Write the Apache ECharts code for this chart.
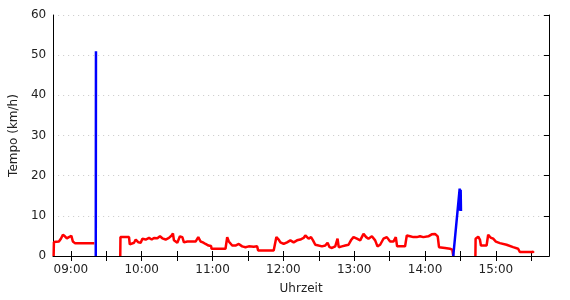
<!DOCTYPE html>
<html><head><meta charset="utf-8">
<script src="https://cdn.jsdelivr.net/npm/echarts@6/dist/echarts.min.js"></script>
<style>html,body{margin:0;padding:0;background:#fff}#c{width:570px;height:300px}</style>
</head><body><div id="c"></div>
<script>
// --- data ---
const redTimes = [
 "08:45:23","08:45:38","08:49:52","08:51:33","08:53:14","08:54:56","08:56:37","08:58:19","08:59:09","09:00:25","09:01:41","09:03:23","09:19:52",
 null,
 "09:41:50","09:42:00","09:49:16","09:49:52","09:53:29","09:54:56","09:57:13","09:59:09","10:00:35","10:03:23","10:06:10","10:08:27","10:10:23","10:13:16","10:15:28","10:17:29","10:20:17","10:23:04","10:25:21","10:26:27","10:27:18","10:30:10","10:32:22","10:34:24","10:35:45","10:38:37","10:45:38","10:47:55","10:49:52","10:51:48","10:54:05","10:56:37","10:58:44","10:59:09","11:10:59","11:12:25","11:13:46","11:16:39","11:19:26","11:22:14","11:25:06","11:27:53","11:30:41","11:34:54","11:37:46","11:38:37","11:51:48","11:54:05","11:56:02","11:57:28","12:00:15","12:03:07","12:05:55","12:08:42","12:11:35","12:14:22","12:17:09","12:18:35","12:21:23","12:23:25","12:25:06","12:27:02","12:29:50","12:32:42","12:35:29","12:37:26","12:39:08","12:41:09","12:43:56","12:45:53","12:46:54","12:49:36","12:52:23","12:55:11","12:57:13","12:59:25","13:02:17","13:05:04","13:07:52","13:10:08","13:12:05","13:14:58","13:17:45","13:19:41","13:21:58","13:24:46","13:27:38","13:30:25","13:33:13","13:35:14","13:36:20","13:43:06","13:44:32","13:47:19","13:50:07","13:52:59","13:55:46","13:58:34","14:00:00","14:02:47","14:05:40","14:08:27","14:10:44","14:11:50","14:16:54","14:21:08","14:23:04","14:23:55",
 null,
 "14:42:40","14:42:50","14:45:02","14:46:29","14:47:19","14:52:08","14:53:29","14:55:31","14:57:43","15:00:00","15:03:23","15:09:02","15:14:37","15:18:51","15:20:17","15:31:31","15:32:07"
];
const redSpeeds = [
 0,3.5,3.6,4.3,5.3,4.9,4.4,4.7,4.3,5.0,3.6,3.2,3.2,
 null,
 0,4.7,4.7,2.9,3.3,4.1,3.4,3.3,4.3,4.1,4.5,4.1,4.5,4.4,4.9,4.4,4.1,4.5,5.1,5.6,3.9,3.3,4.9,4.7,3.4,3.6,3.6,4.7,3.6,3.4,3.0,2.6,2.5,1.8,1.8,4.7,3.6,2.6,2.6,3.0,2.4,2.2,2.4,2.3,2.4,1.4,1.4,4.7,4.1,3.4,3.0,3.4,3.9,3.4,3.9,4.1,4.5,5.1,4.3,4.7,3.9,2.8,2.6,2.4,2.6,3.3,2.2,2.0,2.4,4.3,2.2,2.4,2.6,2.8,3.9,4.7,4.3,3.9,5.5,4.7,4.3,4.9,3.9,2.4,2.8,4.3,4.7,3.6,3.6,4.7,2.4,2.4,5.1,4.9,4.7,4.7,4.9,4.7,5.1,4.9,5.4,5.5,4.9,2.2,2.0,1.8,1.6,0,
 null,
 0,4.3,4.8,4.1,2.6,2.6,5.3,4.6,4.3,3.6,3.2,2.8,2.2,1.8,1.0,1.0,1.2
];
const blueTimes = ["09:21:05","09:21:15", null, "14:23:55","14:29:20","14:29:45","14:30:10","14:30:26"];
const blueSpeeds = [0, 51, null, 0, 16.8, 11.3, 16.5, 11.2];
const xMin = "08:45", xMax = "15:45";
const hourLabels = ["09:00","10:00","11:00","12:00","13:00","14:00","15:00"];
const tickTimes = ["09:00","09:30","10:00","10:30","11:00","11:30","12:00","12:30","13:00","13:30","14:00","14:30","15:00","15:30"];

// --- helpers ---
function toMin(s){ if(s===null) return null; const p=s.split(':').map(Number); return p[0]*60+p[1]+(p[2]||0)/60; }
function fmt(v){ const h=Math.floor(v/60), m=Math.round(v-h*60); return String(h).padStart(2,'0')+':'+String(m).padStart(2,'0'); }
function pairs(ts,vs){ return ts.map((t,i)=> t===null ? [null,null] : [toMin(t), vs[i]]); }

const font = 'DejaVu Sans, Verdana, sans-serif';
const txt = '#222';
const xCommon = {
  type:'value', min:toMin(xMin), max:toMin(xMax),
  axisLine:{show:true, lineStyle:{color:'#000', width:1}},
  axisTick:{show:true, inside:true, length:5, customValues: tickTimes.map(toMin), lineStyle:{color:'#000'}},
  splitLine:{show:false}
};
const yCommon = {
  type:'value', min:0, max:60, interval:10,
  axisLine:{show:true, lineStyle:{color:'#000', width:1}}
};
const chart = echarts.init(document.getElementById('c'), null, {renderer:'canvas'});
chart.setOption({
  animation:false,
  grid:{left:52, right:21, top:15, bottom:41, containLabel:false},
  xAxis:[
    Object.assign({}, xCommon, {position:'bottom',
      name:'Uhrzeit', nameLocation:'middle', nameGap:27,
      nameTextStyle:{fontFamily:font, fontSize:12, color:txt},
      axisLabel:{show:true, customValues: hourLabels.map(toMin), formatter:v=>fmt(v), margin:8,
        fontFamily:font, fontSize:12, color:txt}}),
    Object.assign({}, xCommon, {position:'top', axisLabel:{show:false}})
  ],
  yAxis:[
    Object.assign({}, yCommon, {position:'left',
      name:'Tempo (km/h)', nameLocation:'middle', nameGap:31,
      nameTextStyle:{fontFamily:font, fontSize:12, color:txt},
      axisTick:{show:false},
      axisLabel:{show:true, margin:7, fontFamily:font, fontSize:12, color:txt},
      splitLine:{show:true, lineStyle:{color:'#c8c8c8', type:[1,4], width:1}}}),
    Object.assign({}, yCommon, {position:'right', axisLabel:{show:false}, splitLine:{show:false},
      axisTick:{show:true, inside:true, length:5, lineStyle:{color:'#000'}}})
  ],
  series:[
    {type:'line', data:pairs(redTimes, redSpeeds), showSymbol:false, connectNulls:false,
     lineStyle:{color:'#ff0000', width:2.5}, itemStyle:{color:'#ff0000'}},
    {type:'line', data:pairs(blueTimes, blueSpeeds), showSymbol:false, connectNulls:false,
     lineStyle:{color:'#0000ff', width:2.5}, itemStyle:{color:'#0000ff'}}
  ]
});
</script></body></html>
